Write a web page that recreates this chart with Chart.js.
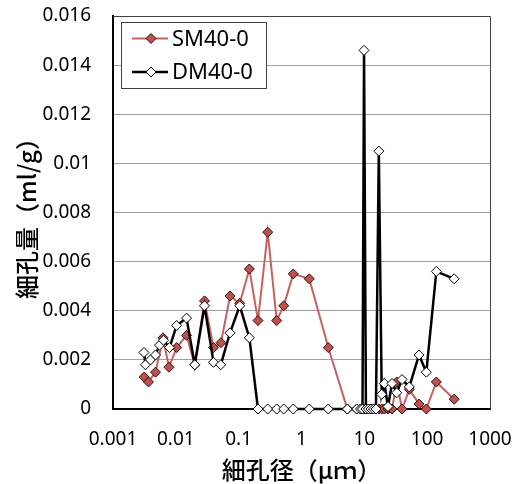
<!DOCTYPE html>
<html>
<head>
<meta charset="utf-8">
<script src="https://cdn.jsdelivr.net/npm/chart.js@4"></script>
<style>
  html, body { margin: 0; padding: 0; background: #fff; }
  #wrap { width: 521px; height: 484px; }
</style>
</head>
<body>
<div id="wrap"><canvas id="poreChart"></canvas></div>
<script>
// Pore diameter (μm) vs pore volume (ml/g)
const seriesNames = ['SM40-0', 'DM40-0'];

const smDiameter = [0.00314, 0.00367, 0.00475, 0.00625, 0.00778, 0.0103, 0.0148, 0.0200, 0.0286, 0.0398,
    0.0523, 0.0728, 0.104, 0.148, 0.203, 0.290, 0.403, 0.521, 0.740, 1.33,
    2.67, 5.36, 7.57, 8.69, 9.35, 9.89, 10.6, 11.6, 12.8, 14.0,
    15.3, 17.0, 18.9, 20.8, 23.8, 27.6, 32.8, 39.8, 52.0, 74.2,
    96.9, 140, 269];
const smVolume = [0.0013, 0.0011, 0.0015, 0.0029, 0.0017, 0.0025, 0.0030, 0.0018, 0.0044, 0.0025,
    0.0027, 0.0046, 0.0043, 0.0057, 0.0036, 0.0072, 0.0036, 0.0042, 0.0055, 0.0053,
    0.0025, 0, 0, 0, 0, 0, 0, 0, 0, 0,
    0, 0, 0, 0, 0, 0, 0.0011, 0, 0.0008, 0.0002,
    0, 0.0011, 0.0004];

const dmDiameter = [0.00311, 0.00329, 0.00395, 0.00475, 0.00550, 0.00637, 0.00793, 0.0103, 0.0148, 0.0200,
    0.0286, 0.0398, 0.0518, 0.0728, 0.104, 0.148, 0.203, 0.290, 0.403, 0.521,
    0.740, 1.33, 2.67, 5.36, 7.57, 8.69, 9.35, 9.89, 10.6, 11.6,
    12.8, 14.0, 15.3, 17.0, 18.9, 20.8, 23.8, 27.6, 32.8, 39.8,
    52.0, 74.2, 96.9, 140, 269];
const dmVolume = [0.0023, 0.0018, 0.0020, 0.0022, 0.0026, 0.0028, 0.0025, 0.0034, 0.0037, 0.0018,
    0.0042, 0.0019, 0.0018, 0.0031, 0.0042, 0.0029, 0, 0, 0, 0,
    0, 0, 0, 0, 0, 0, 0, 0.0146, 0, 0,
    0, 0, 0, 0.0105, 0.0006, 0.00104, 0.0001, 0.00104, 0.00066, 0.0012,
    0.0009, 0.0022, 0.0015, 0.0056, 0.0053];

const xTicks = [0.001, 0.01, 0.1, 1, 10, 100, 1000];
const yMax = 0.016;
const yStep = 0.002;

const xTitle = '細孔径（μｍ）';
const yTitle = '細孔量（ml/g）';

const toPoints = (xs, ys) => xs.map((x, i) => ({ x: x, y: ys[i] }));

const tickFont = { family: '"Noto Sans", sans-serif', size: 19 };
const titleFont = { family: '"Noto Sans CJK JP", sans-serif', size: 24, weight: '500' };

// thin frame on the top and right of the plot
const framePlugin = {
    id: 'frame',
    beforeDatasetsDraw(chart) {
        const { ctx, chartArea: a } = chart;
        ctx.save();
        ctx.strokeStyle = '#404040';
        ctx.lineWidth = 1;
        ctx.beginPath();
        ctx.moveTo(a.left, a.top + 0.5);
        ctx.lineTo(a.right + 0.5, a.top + 0.5);
        ctx.lineTo(a.right + 0.5, a.bottom);
        ctx.stroke();
        ctx.restore();
    }
};

// boxed legend inside the plot, top-left
const boxLegend = {
    id: 'boxLegend',
    afterDraw(chart) {
        const { ctx, chartArea: a } = chart;
        const x0 = a.left + 8, y0 = a.top + 6, w = 145, h = 66;
        ctx.save();
        ctx.fillStyle = '#fff';
        ctx.fillRect(x0, y0, w, h);
        ctx.strokeStyle = '#404040';
        ctx.lineWidth = 1;
        ctx.strokeRect(x0 + 0.5, y0 + 0.5, w, h);
        chart.data.datasets.forEach((ds, i) => {
            const y = y0 + 16.5 + i * 33.5;
            ctx.strokeStyle = ds.borderColor;
            ctx.lineWidth = ds.borderWidth;
            ctx.beginPath();
            ctx.moveTo(x0 + 11, y);
            ctx.lineTo(x0 + 47, y);
            ctx.stroke();
            ctx.fillStyle = ds.pointBackgroundColor;
            ctx.strokeStyle = ds.pointBorderColor;
            ctx.lineWidth = 1;
            ctx.beginPath();
            ctx.moveTo(x0 + 30, y - 5);
            ctx.lineTo(x0 + 35, y);
            ctx.lineTo(x0 + 30, y + 5);
            ctx.lineTo(x0 + 25, y);
            ctx.closePath();
            ctx.fill();
            ctx.stroke();
            ctx.fillStyle = '#000';
            ctx.font = '22px "Noto Sans", sans-serif';
            ctx.textBaseline = 'middle';
            ctx.fillText(ds.label, x0 + 51, y + 1);
        });
        ctx.restore();
    }
};

new Chart(document.getElementById('poreChart'), {
    type: 'scatter',
    data: {
        datasets: [
            {
                label: seriesNames[0],
                data: toPoints(smDiameter, smVolume),
                showLine: true,
                borderColor: '#C8615E',
                borderWidth: 2,
                pointStyle: 'rectRot',
                pointRadius: 5,
                pointBackgroundColor: '#C0504D',
                pointBorderColor: '#2a1010',
                pointBorderWidth: 1,
                order: 2,
                clip: false
            },
            {
                label: seriesNames[1],
                data: toPoints(dmDiameter, dmVolume),
                showLine: true,
                borderColor: '#000',
                borderWidth: 2.5,
                pointStyle: 'rectRot',
                pointRadius: 5,
                pointBackgroundColor: '#fff',
                pointBorderColor: '#000',
                pointBorderWidth: 1,
                order: 1,
                clip: false
            }
        ]
    },
    options: {
        responsive: true,
        maintainAspectRatio: false,
        animation: false,
        layout: { padding: { left: 0, right: 31, top: 16, bottom: 0 } },
        plugins: {
            legend: { display: false },
            tooltip: { enabled: false }
        },
        scales: {
            x: {
                type: 'logarithmic',
                min: 0.001,
                max: 1000,
                afterBuildTicks: (scale) => { scale.ticks = xTicks.map(v => ({ value: v })); },
                afterFit: (scale) => {
                    scale.height = 75;
                    scale.paddingLeft = 0;
                    scale.paddingRight = 0;
                },
                grid: { display: false, drawTicks: false },
                border: { display: true, color: '#000', width: 2 },
                ticks: {
                    color: '#000',
                    font: tickFont,
                    padding: 19,
                    maxRotation: 0,
                    autoSkip: false,
                    callback: (v) => String(v)
                },
                title: { display: true, text: xTitle, color: '#000', font: titleFont, padding: { top: 0, bottom: 0 } }
            },
            y: {
                min: 0,
                max: yMax,
                afterFit: (scale) => {
                    scale.width = 113;
                    scale.paddingTop = 0;
                    scale.paddingBottom = 0;
                },
                grid: { color: '#A0A0A0', lineWidth: 1, drawTicks: false },
                border: { display: true, color: '#000', width: 2 },
                ticks: {
                    stepSize: yStep,
                    color: '#000',
                    font: tickFont,
                    padding: 22,
                    callback: (v) => String(parseFloat(v.toFixed(3)))
                },
                title: { display: true, text: yTitle, color: '#000', font: titleFont, padding: { top: 12, bottom: 0 } }
            }
        }
    },
    plugins: [framePlugin, boxLegend]
});
</script>
</body>
</html>
